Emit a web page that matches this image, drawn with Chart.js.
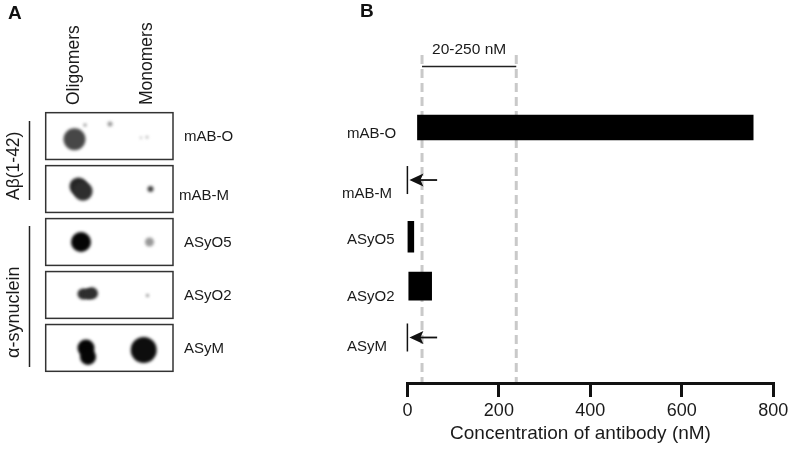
<!DOCTYPE html>
<html>
<head>
<meta charset="utf-8">
<script src="https://cdn.jsdelivr.net/npm/chart.js@4/dist/chart.umd.min.js"></script>
<style>
  html, body { margin: 0; background: #fff; overflow: hidden; }
  canvas { position: absolute; top: 0; }
  #blots { left: 0; }
  #binding { left: 330px; }
</style>
</head>
<body>
<canvas id="blots" width="330" height="449"></canvas>
<canvas id="binding" width="464" height="449"></canvas>
<script>
// panel A, dot blot
const blotNames = ["mAB-O", "mAB-M", "ASyO5", "ASyO2", "ASyM"];
const laneNames = ["Oligomers", "Monomers"];
const spotX = [28.8, 39.3, 64.3, 101.3, 95.3, 32.8, 37.3, 104.8, 35.3, 103.8, 37.3, 42.3, 46.3, 101.8, 40.3, 42.3, 98];
const spotY = [0.06, -0.21, -0.23, 0.02, 0.03, 0.95, 1.04, 1, 2, 2, 2.98, 2.98, 2.97, 3.01, 4, 4.17, 4.04];
const spotSize = [11, 1.5, 2.5, 1.2, 1, 9, 9.5, 3, 10, 4.5, 5.5, 5.5, 6, 1.2, 8.5, 8, 13];
const spotSignal = [0.72, 0.5, 0.4, 0.4, 0.4, 0.85, 0.82, 0.75, 0.98, 0.4, 0.82, 0.82, 0.82, 0.7, 0.98, 0.98, 0.95];

// panel B, binding range per antibody
const antibodies = ["mAB-O", "mAB-M", "ASyO5", "ASyO2", "ASyM"];
const barStart = [22, null, 0.5, 3, null];
const barEnd = [756, null, 14, 53, null];
const barRow = [0, 1, 2.08, 3.02, 4];
const rangeLines = [32, 238];
const xTicks = [0, 200, 400, 600, 800];

const FONT = '"Liberation Sans", Arial, sans-serif';
const INK = "#1a1a1a";

function putText(ctx, text, x, y, size, opts = {}) {
  ctx.save();
  ctx.translate(x, y);
  if (opts.rotate) ctx.rotate(opts.rotate);
  ctx.font = (opts.bold ? "bold " : "") + size + "px " + FONT;
  ctx.fillStyle = opts.color || INK;
  ctx.textAlign = opts.align || "left";
  ctx.textBaseline = "middle";
  ctx.fillText(text, 0, 0);
  ctx.restore();
}

function rule(ctx, x1, y1, x2, y2, width, color) {
  ctx.save();
  ctx.beginPath();
  ctx.moveTo(x1, y1);
  ctx.lineTo(x2, y2);
  ctx.lineWidth = width;
  ctx.strokeStyle = color;
  ctx.stroke();
  ctx.restore();
}

const blotPlugin = {
  id: "blotPlugin",
  beforeDatasetDraw(chart) { chart.ctx.filter = "blur(1.5px)"; },
  afterDatasetDraw(chart) { chart.ctx.filter = "none"; },
  afterDraw(chart) {
    const { ctx, chartArea, scales } = chart;
    const labelShift = [0, -5, 0, 0, 0];
    blotNames.forEach((name, i) => {
      const cy = scales.y.getPixelForValue(i);
      ctx.save();
      ctx.lineWidth = 1.5;
      ctx.strokeStyle = "#333";
      ctx.strokeRect(chartArea.left, cy - 23.4, chartArea.right - chartArea.left, 46.8);
      ctx.restore();
      putText(ctx, name, 184 + labelShift[i], cy + (i === 1 ? 7 : 1), 15);
    });
    const up = -Math.PI / 2;
    putText(ctx, "A", 8, 14, 19, { bold: true, color: "#111" });
    putText(ctx, laneNames[0], 74.5, 105, 17.5, { rotate: up });
    putText(ctx, laneNames[1], 147, 105, 17.5, { rotate: up });
    putText(ctx, "Aβ(1-42)", 14, 200, 17.5, { rotate: up });
    putText(ctx, "α-synuclein", 14.5, 358, 18, { rotate: up });
    rule(ctx, 29.5, 121, 29.5, 200, 1.5, "#222");
    rule(ctx, 29.5, 226, 29.5, 367, 1.5, "#222");
  },
};

new Chart(document.getElementById("blots"), {
  type: "bubble",
  data: {
    datasets: [{
      data: spotX.map((x, i) => ({ x, y: spotY[i], r: spotSize[i] })),
      backgroundColor: spotSignal.map((s) => {
        const g = Math.round(255 * (1 - s));
        return `rgb(${g},${g},${g})`;
      }),
      borderWidth: 0,
    }],
  },
  options: {
    responsive: false,
    animation: false,
    layout: { padding: { left: 45.7, right: 157, top: 109.6, bottom: 74.6 } },
    scales: {
      x: { type: "linear", min: 0, max: 127.3, display: false },
      y: { type: "linear", min: -0.5, max: 4.5, reverse: true, display: false },
    },
    plugins: { legend: { display: false }, tooltip: { enabled: false } },
  },
  plugins: [blotPlugin],
});

const bindingPlugin = {
  id: "bindingPlugin",
  beforeDatasetsDraw(chart) {
    const { ctx, scales } = chart;
    const px = rangeLines.map((v) => scales.x.getPixelForValue(v));
    ctx.save();
    ctx.setLineDash([9, 5]);
    px.forEach((x) => rule(ctx, x, 55, x, 382, 3, "#c9c9c9"));
    ctx.restore();
    rule(ctx, px[0], 66.5, px[1], 66.5, 1.5, "#222");
    putText(ctx, "20-250 nM", (px[0] + px[1]) / 2, 49.5, 15.5, { align: "center" });
  },
  afterDraw(chart) {
    const { ctx, scales } = chart;
    const labelDrop = [6, 14, 3.5, 10.5, 9.5];
    const labelShift = [0, -5, 0, 0, 0];
    antibodies.forEach((name, i) => {
      const cy = scales.y.getPixelForValue(barRow[i]);
      putText(ctx, name, 17 + labelShift[i], cy + labelDrop[i], 15);
      if (barStart[i] !== null) return;
      // no binding in range: tick at zero and an arrow pointing to it
      const x0 = scales.x.getPixelForValue(0);
      const tail = scales.x.getPixelForValue(65);
      rule(ctx, x0, cy - 14, x0, cy + 14, 1.5, "#111");
      rule(ctx, x0 + 10, cy, tail, cy, 1.8, "#111");
      ctx.save();
      ctx.fillStyle = "#111";
      ctx.beginPath();
      ctx.moveTo(x0 + 2, cy);
      ctx.lineTo(x0 + 16, cy - 6.5);
      ctx.lineTo(x0 + 13, cy);
      ctx.lineTo(x0 + 16, cy + 6.5);
      ctx.closePath();
      ctx.fill();
      ctx.restore();
    });
    putText(ctx, "B", 30, 12, 19, { bold: true, color: "#111" });
    // sits left of the plot centre in the original, so not the axis title option
    putText(ctx, "Concentration of antibody (nM)", 250.5, 434, 19, { align: "center" });
  },
};

const barThickness = [25, 0, 31, 28, 0];

new Chart(document.getElementById("binding"), {
  type: "bar",
  data: {
    datasets: antibodies.map((name, i) => ({
      label: name,
      data: barStart[i] === null ? [] : [{ x: [barStart[i], barEnd[i]], y: barRow[i] }],
      backgroundColor: "#000",
      barThickness: barThickness[i],
      grouped: false,
    })),
  },
  options: {
    indexAxis: "y",
    responsive: false,
    animation: false,
    layout: { padding: { left: 77.4, right: 20.7, top: 0, bottom: 0 } },
    scales: {
      x: {
        type: "linear",
        min: 0,
        max: 800,
        afterBuildTicks(axis) { axis.ticks = xTicks.map((value) => ({ value })); },
        afterFit(axis) { axis.height = 66; },
        border: { display: true, color: "#111", width: 3 },
        grid: { drawOnChartArea: false, color: "#111", lineWidth: 3, tickLength: 14 },
        ticks: { color: INK, font: { family: FONT, size: 18 }, padding: 3, maxRotation: 0 },
      },
      y: { type: "linear", min: -2.43, max: 4.867, reverse: true, offset: false, display: false },
    },
    plugins: { legend: { display: false }, tooltip: { enabled: false } },
  },
  plugins: [bindingPlugin],
});
</script>
</body>
</html>
